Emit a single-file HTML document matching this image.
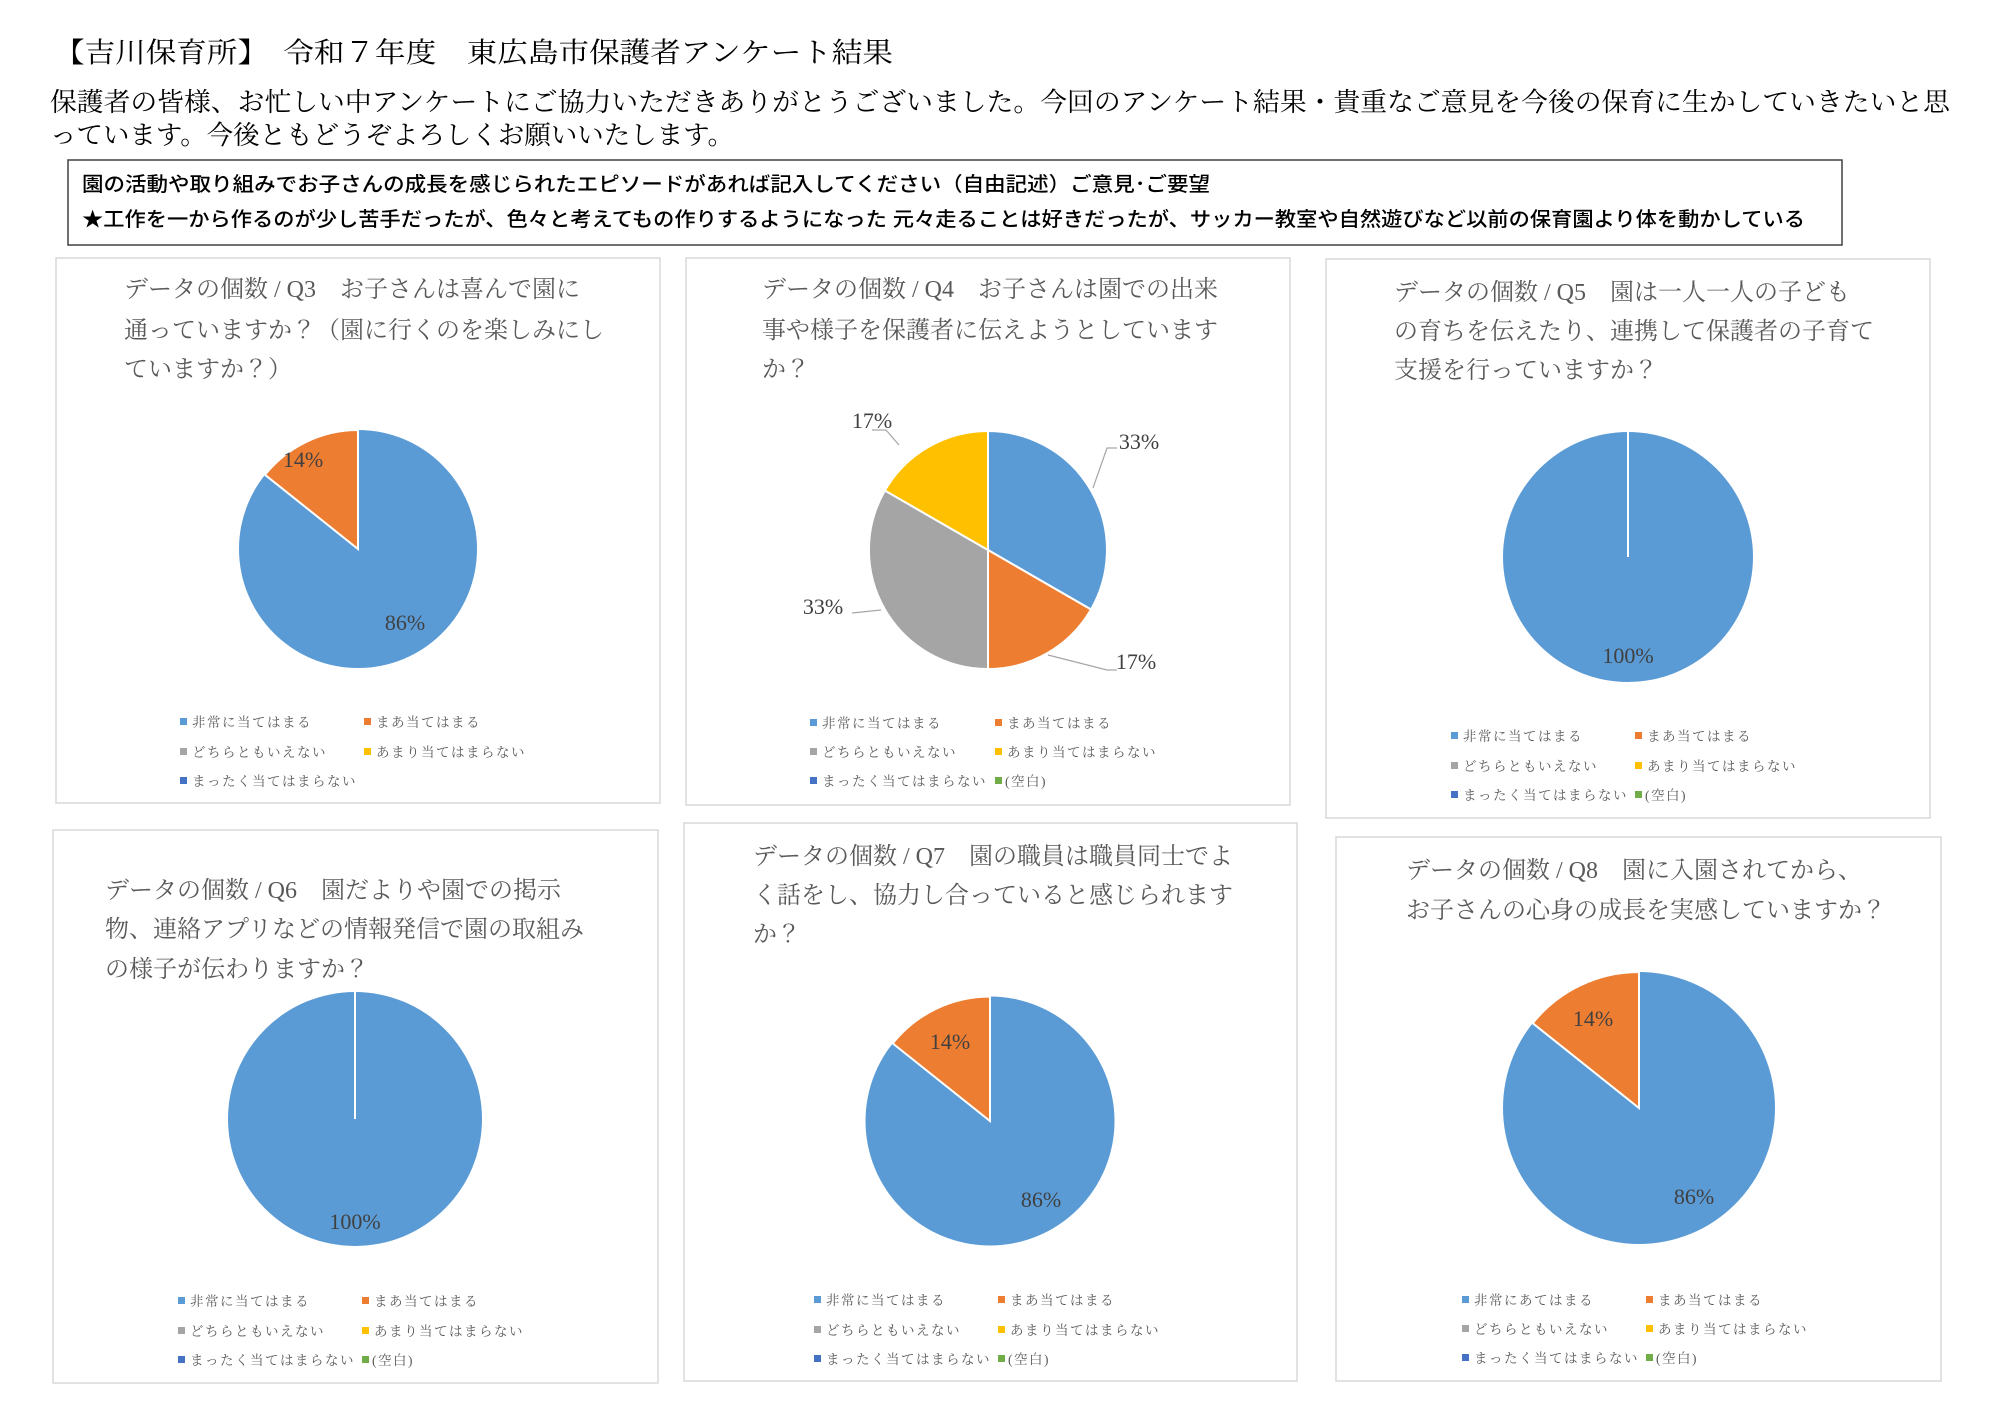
<!DOCTYPE html>
<html><head><meta charset="utf-8"><style>
html,body{margin:0;padding:0;background:#fff;}
svg{display:block;}
.ser{font-family:"Liberation Serif","Noto Serif CJK JP","Noto Serif CJK SC",serif;}
.got{font-family:"Liberation Sans","Noto Sans CJK JP",sans-serif;}
.tt{font-size:24px;fill:#595959;}
.lg{font-size:13.5px;fill:#595959;letter-spacing:1.5px;}
.pl{font-size:22px;fill:#404040;}
.pn{fill:#fff;stroke:#d9d9d9;stroke-width:1.5;}
</style></head><body>
<svg width="2000" height="1414" viewBox="0 0 2000 1414" xmlns="http://www.w3.org/2000/svg">
<rect width="2000" height="1414" fill="#fff"/>
<g class="ser" fill="#000">
<text x="54" y="62" font-size="28" textLength="839" lengthAdjust="spacingAndGlyphs">【吉川保育所】　令和７年度　東広島市保護者アンケート結果</text>
<text x="50" y="111" font-size="26" textLength="1900" lengthAdjust="spacingAndGlyphs">保護者の皆様、お忙しい中アンケートにご協力いただきありがとうございました。今回のアンケート結果・貴重なご意見を今後の保育に生かしていきたいと思</text>
<text x="50" y="144" font-size="26" textLength="684" lengthAdjust="spacingAndGlyphs">っています。今後ともどうぞよろしくお願いいたします。</text>
</g>
<rect x="68" y="160" width="1774" height="85" fill="none" stroke="#404040" stroke-width="1.5"/>
<g class="got" fill="#000" font-weight="500">
<text x="82" y="191" font-size="20" textLength="1128" lengthAdjust="spacingAndGlyphs">園の活動や取り組みでお子さんの成長を感じられたエピソードがあれば記入してください（自由記述）ご意見･ご要望</text>
<text x="82" y="226" font-size="20" textLength="1723" lengthAdjust="spacingAndGlyphs">★工作を一から作るのが少し苦手だったが、色々と考えてもの作りするようになった 元々走ることは好きだったが、サッカー教室や自然遊びなど以前の保育園より体を動かしている</text>
</g>

<!-- panels -->
<rect class="pn" x="56" y="258" width="604" height="545"/>
<rect class="pn" x="686" y="258" width="604" height="547"/>
<rect class="pn" x="1326" y="259" width="604" height="559"/>
<rect class="pn" x="53" y="830" width="605" height="553"/>
<rect class="pn" x="684" y="823" width="613" height="558"/>
<rect class="pn" x="1336" y="837" width="605" height="544"/>

<!-- titles -->
<g class="ser tt">
<text x="124" y="297">データの個数 / Q3　お子さんは喜んで園に</text>
<text x="124" y="338">通っていますか？（園に行くのを楽しみにし</text>
<text x="124" y="377">ていますか？）</text>
<text x="762" y="297">データの個数 / Q4　お子さんは園での出来</text>
<text x="762" y="338">事や様子を保護者に伝えようとしています</text>
<text x="762" y="377">か？</text>
<text x="1394" y="300">データの個数 / Q5　園は一人一人の子ども</text>
<text x="1394" y="339">の育ちを伝えたり、連携して保護者の子育て</text>
<text x="1394" y="378">支援を行っていますか？</text>
<text x="105" y="898">データの個数 / Q6　園だよりや園での掲示</text>
<text x="105" y="937">物、連絡アプリなどの情報発信で園の取組み</text>
<text x="105" y="977">の様子が伝わりますか？</text>
<text x="753" y="864">データの個数 / Q7　園の職員は職員同士でよ</text>
<text x="753" y="903">く話をし、協力し合っていると感じられます</text>
<text x="753" y="942">か？</text>
<text x="1406" y="878">データの個数 / Q8　園に入園されてから、</text>
<text x="1406" y="918">お子さんの心身の成長を実感していますか？</text>
</g>

<!-- P1 -->
<circle cx="358" cy="549" r="119" fill="#5B9BD5"/>
<path d="M358,549 L358,430 A119,119 0 0 0 265,474.8 Z" fill="#ED7D31" stroke="#fff" stroke-width="2"/>
<g class="ser pl" text-anchor="middle">
<text x="303" y="467">14%</text><text x="405" y="630">86%</text>
</g>

<!-- P2 -->
<g stroke="#fff" stroke-width="2">
<path d="M988,550 L988,431 A119,119 0 0 1 1091,609.5 Z" fill="#5B9BD5"/>
<path d="M988,550 L1091,609.5 A119,119 0 0 1 988,669 Z" fill="#ED7D31"/>
<path d="M988,550 L988,669 A119,119 0 0 1 884.9,490.5 Z" fill="#A5A5A5"/>
<path d="M988,550 L884.9,490.5 A119,119 0 0 1 988,431 Z" fill="#FFC000"/>
</g>
<g fill="none" stroke="#a6a6a6" stroke-width="1.2">
<polyline points="899,445 886,430 872,430"/>
<polyline points="1093,488 1107,448 1117,448"/>
<polyline points="1048,655 1107,670 1117,670"/>
<polyline points="881,610 852,613 852,613"/>
</g>
<g class="ser pl" text-anchor="middle">
<text x="872" y="428">17%</text>
<text x="1139" y="449">33%</text>
<text x="1136" y="669">17%</text>
<text x="823" y="614">33%</text>
</g>

<!-- P3 -->
<circle cx="1628" cy="557" r="125" fill="#5B9BD5"/>
<line x1="1628" y1="432" x2="1628" y2="557" stroke="#fff" stroke-width="2"/>
<text class="ser pl" x="1628" y="663" text-anchor="middle">100%</text>

<!-- P4 -->
<circle cx="355" cy="1119" r="127" fill="#5B9BD5"/>
<line x1="355" y1="992" x2="355" y2="1119" stroke="#fff" stroke-width="2"/>
<text class="ser pl" x="355" y="1229" text-anchor="middle">100%</text>

<!-- P5 -->
<circle cx="990" cy="1121" r="124.5" fill="#5B9BD5"/>
<path d="M990,1121 L990,996.5 A124.5,124.5 0 0 0 892.7,1043.4 Z" fill="#ED7D31" stroke="#fff" stroke-width="2"/>
<g class="ser pl" text-anchor="middle"><text x="950" y="1049">14%</text><text x="1041" y="1207">86%</text></g>

<!-- P6 -->
<circle cx="1639" cy="1108" r="136" fill="#5B9BD5"/>
<path d="M1639,1108 L1639,972 A136,136 0 0 0 1532.7,1023.2 Z" fill="#ED7D31" stroke="#fff" stroke-width="2"/>
<g class="ser pl" text-anchor="middle"><text x="1593" y="1026">14%</text><text x="1694" y="1204">86%</text></g>

<!-- legends -->
<g class="ser lg">
<!-- P1 -->
<rect x="180" y="718" width="7" height="7" fill="#5B9BD5"/><text x="192" y="727">非常に当てはまる</text>
<rect x="364" y="718" width="7" height="7" fill="#ED7D31"/><text x="376" y="727">まあ当てはまる</text>
<rect x="180" y="748" width="7" height="7" fill="#A5A5A5"/><text x="192" y="757">どちらともいえない</text>
<rect x="364" y="748" width="7" height="7" fill="#FFC000"/><text x="376" y="757">あまり当てはまらない</text>
<rect x="180" y="777" width="7" height="7" fill="#4472C4"/><text x="192" y="786">まったく当てはまらない</text>
<!-- P2 -->
<rect x="810" y="719" width="7" height="7" fill="#5B9BD5"/><text x="822" y="728">非常に当てはまる</text>
<rect x="995" y="719" width="7" height="7" fill="#ED7D31"/><text x="1007" y="728">まあ当てはまる</text>
<rect x="810" y="748" width="7" height="7" fill="#A5A5A5"/><text x="822" y="757">どちらともいえない</text>
<rect x="995" y="748" width="7" height="7" fill="#FFC000"/><text x="1007" y="757">あまり当てはまらない</text>
<rect x="810" y="777" width="7" height="7" fill="#4472C4"/><text x="822" y="786">まったく当てはまらない</text>
<rect x="995" y="777" width="7" height="7" fill="#70AD47"/><text x="1005" y="786">(空白)</text>
<!-- P3 -->
<rect x="1451" y="732" width="7" height="7" fill="#5B9BD5"/><text x="1463" y="741">非常に当てはまる</text>
<rect x="1635" y="732" width="7" height="7" fill="#ED7D31"/><text x="1647" y="741">まあ当てはまる</text>
<rect x="1451" y="762" width="7" height="7" fill="#A5A5A5"/><text x="1463" y="771">どちらともいえない</text>
<rect x="1635" y="762" width="7" height="7" fill="#FFC000"/><text x="1647" y="771">あまり当てはまらない</text>
<rect x="1451" y="791" width="7" height="7" fill="#4472C4"/><text x="1463" y="800">まったく当てはまらない</text>
<rect x="1635" y="791" width="7" height="7" fill="#70AD47"/><text x="1645" y="800">(空白)</text>
<!-- P4 -->
<rect x="178" y="1297" width="7" height="7" fill="#5B9BD5"/><text x="190" y="1306">非常に当てはまる</text>
<rect x="362" y="1297" width="7" height="7" fill="#ED7D31"/><text x="374" y="1306">まあ当てはまる</text>
<rect x="178" y="1327" width="7" height="7" fill="#A5A5A5"/><text x="190" y="1336">どちらともいえない</text>
<rect x="362" y="1327" width="7" height="7" fill="#FFC000"/><text x="374" y="1336">あまり当てはまらない</text>
<rect x="178" y="1356" width="7" height="7" fill="#4472C4"/><text x="190" y="1365">まったく当てはまらない</text>
<rect x="362" y="1356" width="7" height="7" fill="#70AD47"/><text x="372" y="1365">(空白)</text>
<!-- P5 -->
<rect x="814" y="1296" width="7" height="7" fill="#5B9BD5"/><text x="826" y="1305">非常に当てはまる</text>
<rect x="998" y="1296" width="7" height="7" fill="#ED7D31"/><text x="1010" y="1305">まあ当てはまる</text>
<rect x="814" y="1326" width="7" height="7" fill="#A5A5A5"/><text x="826" y="1335">どちらともいえない</text>
<rect x="998" y="1326" width="7" height="7" fill="#FFC000"/><text x="1010" y="1335">あまり当てはまらない</text>
<rect x="814" y="1355" width="7" height="7" fill="#4472C4"/><text x="826" y="1364">まったく当てはまらない</text>
<rect x="998" y="1355" width="7" height="7" fill="#70AD47"/><text x="1008" y="1364">(空白)</text>
<!-- P6 -->
<rect x="1462" y="1296" width="7" height="7" fill="#5B9BD5"/><text x="1474" y="1305">非常にあてはまる</text>
<rect x="1646" y="1296" width="7" height="7" fill="#ED7D31"/><text x="1658" y="1305">まあ当てはまる</text>
<rect x="1462" y="1325" width="7" height="7" fill="#A5A5A5"/><text x="1474" y="1334">どちらともいえない</text>
<rect x="1646" y="1325" width="7" height="7" fill="#FFC000"/><text x="1658" y="1334">あまり当てはまらない</text>
<rect x="1462" y="1354" width="7" height="7" fill="#4472C4"/><text x="1474" y="1363">まったく当てはまらない</text>
<rect x="1646" y="1354" width="7" height="7" fill="#70AD47"/><text x="1656" y="1363">(空白)</text>
</g>
</svg>
</body></html>
